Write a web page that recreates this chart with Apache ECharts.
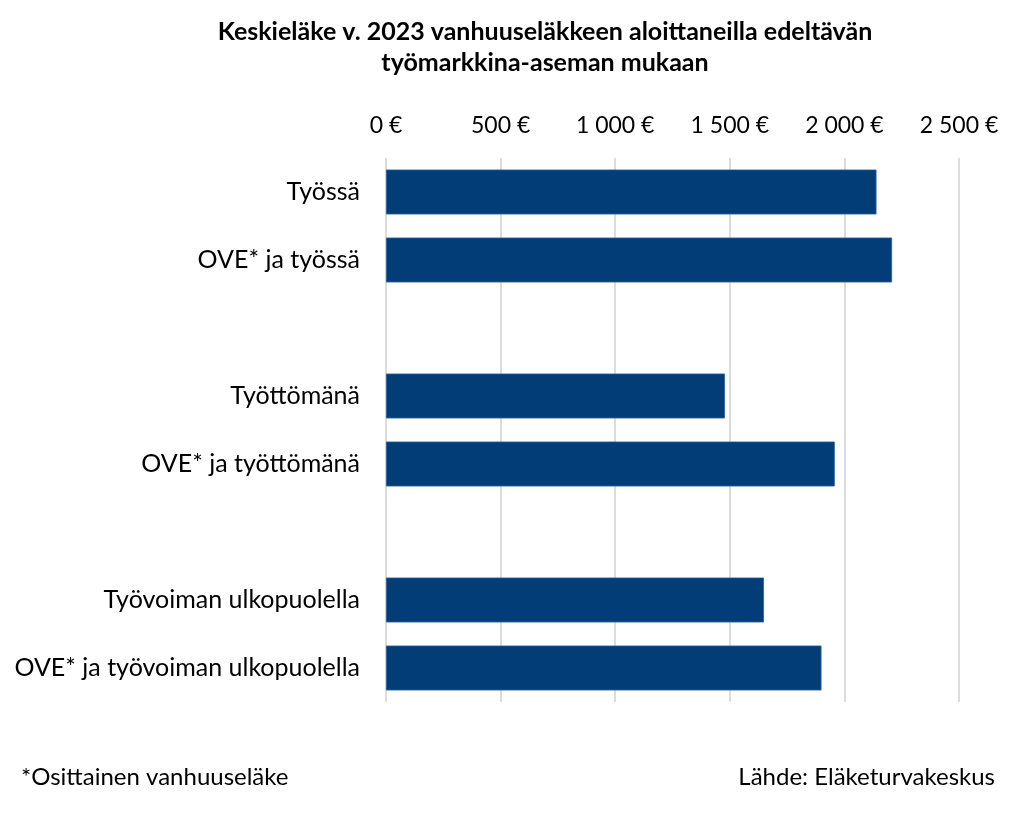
<!DOCTYPE html>
<html>
<head>
<meta charset="utf-8">
<script src="https://cdn.jsdelivr.net/npm/echarts@6/dist/echarts.min.js"></script>
<style>
html,body{margin:0;padding:0;background:#fff;}
#chart{width:1024px;height:817px;}
</style>
</head>
<body>
<div id="chart"></div>
<script>
var categories = ['Työssä', 'OVE* ja työssä', '', 'Työttömänä', 'OVE* ja työttömänä', '', 'Työvoiman ulkopuolella', 'OVE* ja työvoiman ulkopuolella'];
var values = [2140, 2208, null, 1479, 1958, null, 1649, 1900];
var tickMin = 0, tickMax = 2500, tickStep = 500;
var titleText = 'Keskieläke v. 2023 vanhuuseläkkeen aloittaneilla edeltävän\ntyömarkkina-aseman mukaan';
var noteText = '*Osittainen vanhuuseläke';
var sourceText = 'Lähde: Eläketurvakeskus';

var FONT = 'Lato';
var chart = echarts.init(document.getElementById('chart'), null, {renderer: 'canvas'});
function fmt(v) {
  return String(v).replace(/\B(?=(\d{3})+(?!\d))/g, ' ') + ' €';
}
chart.setOption({
  backgroundColor: '#ffffff',
  animation: false,
  title: [
    {text: titleText, left: 540, top: 11, textAlign: 'center',
     textStyle: {fontFamily: FONT, fontSize: 25, fontWeight: 'bold', color: '#000', lineHeight: 31}},
    {text: noteText, left: 16, top: 760,
     textStyle: {fontFamily: FONT, fontSize: 24, fontWeight: 'normal', color: '#000'}},
    {text: sourceText, right: 24, top: 760,
     textStyle: {fontFamily: FONT, fontSize: 24, fontWeight: 'normal', color: '#000'}}
  ],
  grid: {left: 386, right: 65, top: 158, bottom: 115, containLabel: false},
  xAxis: {
    type: 'value', position: 'top', min: tickMin, max: tickMax, interval: tickStep,
    axisLine: {show: false}, axisTick: {show: false},
    splitLine: {show: true, lineStyle: {color: '#d0d0d0', width: 1.5}},
    axisLabel: {formatter: fmt, fontFamily: FONT, fontSize: 23, color: '#000', margin: 21}
  },
  yAxis: {
    type: 'category', inverse: true, data: categories,
    axisLine: {show: false}, axisTick: {show: false},
    axisLabel: {fontFamily: FONT, fontSize: 25, color: '#000', margin: 26}
  },
  series: [{
    type: 'bar', data: values, barCategoryGap: '34%',
    itemStyle: {color: '#033d78', borderColor: '#2c5f95', borderWidth: 0.8}
  }]
});
</script>
</body>
</html>
